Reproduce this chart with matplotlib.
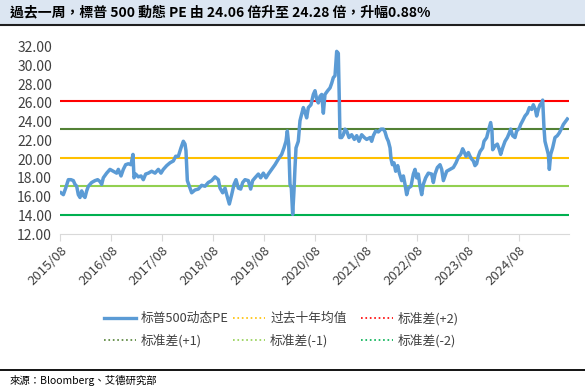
import matplotlib
matplotlib.use("Agg")
import matplotlib.pyplot as plt
from matplotlib.lines import Line2D
from matplotlib.patches import Rectangle

plt.rcParams['font.family'] = ['Noto Sans CJK SC', 'DejaVu Sans']

# ============================================================
# DATA
# ============================================================
TITLE = "過去一周，標普 500 動態 PE 由 24.06 倍升至 24.28 倍，升幅0.88%"
SOURCE = "來源：Bloomberg、艾德研究部"

# time as fractional years
years = [
    2015.595, 2015.641, 2015.687, 2015.739, 2015.791, 2015.837, 2015.870, 2015.903,
    2015.935, 2015.968, 2016.001, 2016.034, 2016.066, 2016.099, 2016.132, 2016.197,
    2016.263, 2016.315, 2016.361, 2016.394, 2016.426, 2016.492, 2016.557, 2016.623,
    2016.688, 2016.721, 2016.774, 2016.819, 2016.865, 2016.918, 2016.970, 2017.009,
    2017.029, 2017.062, 2017.114, 2017.167, 2017.212, 2017.258, 2017.311, 2017.376,
    2017.442, 2017.507, 2017.559, 2017.605, 2017.671, 2017.736, 2017.802, 2017.848,
    2017.900, 2017.952, 2017.998, 2018.031, 2018.050, 2018.077, 2018.116, 2018.162,
    2018.227, 2018.293, 2018.358, 2018.424, 2018.489, 2018.555, 2018.620, 2018.686,
    2018.719, 2018.771, 2018.817, 2018.850, 2018.902, 2018.948, 2018.994, 2019.033,
    2019.079, 2019.125, 2019.164, 2019.210, 2019.275, 2019.321, 2019.360, 2019.406,
    2019.472, 2019.517, 2019.570, 2019.622, 2019.668, 2019.734, 2019.799, 2019.865,
    2019.930, 2019.976, 2020.015, 2020.041, 2020.068, 2020.094, 2020.120, 2020.146,
    2020.172, 2020.192, 2020.212, 2020.257, 2020.290, 2020.323, 2020.356, 2020.388,
    2020.421, 2020.454, 2020.506, 2020.552, 2020.585, 2020.618, 2020.650, 2020.683,
    2020.716, 2020.749, 2020.781, 2020.834, 2020.880, 2020.913, 2020.945, 2020.978,
    2021.011, 2021.043, 2021.063, 2021.076, 2021.109, 2021.142, 2021.174, 2021.207,
    2021.253, 2021.305, 2021.358, 2021.404, 2021.449, 2021.502, 2021.554, 2021.600,
    2021.666, 2021.698, 2021.731, 2021.777, 2021.830, 2021.882, 2021.928, 2021.961,
    2021.993, 2022.026, 2022.059, 2022.079, 2022.105, 2022.137, 2022.170, 2022.210,
    2022.242, 2022.288, 2022.321, 2022.353, 2022.386, 2022.419, 2022.471, 2022.517,
    2022.550, 2022.583, 2022.615, 2022.648, 2022.681, 2022.713, 2022.759, 2022.812,
    2022.877, 2022.910, 2022.943, 2022.989, 2023.041, 2023.074, 2023.107, 2023.139,
    2023.172, 2023.238, 2023.303, 2023.355, 2023.401, 2023.447, 2023.486, 2023.512,
    2023.552, 2023.598, 2023.630, 2023.663, 2023.696, 2023.728, 2023.761, 2023.794,
    2023.827, 2023.879, 2023.905, 2023.958, 2023.990, 2024.036, 2024.062, 2024.076,
    2024.121, 2024.167, 2024.207, 2024.233, 2024.272, 2024.318, 2024.364, 2024.403,
    2024.429, 2024.468, 2024.514, 2024.547, 2024.599, 2024.626, 2024.665, 2024.711,
    2024.757, 2024.796, 2024.842, 2024.874, 2024.914, 2024.940, 2024.972, 2025.005,
    2025.038, 2025.058, 2025.084, 2025.103, 2025.136, 2025.169, 2025.189, 2025.215,
    2025.254, 2025.300, 2025.346, 2025.385, 2025.431, 2025.464, 2025.516, 2025.542,
]

pe = [
    16.4, 16.2, 16.9, 17.8, 17.8, 17.7, 17.3, 17.1,
    16.2, 15.9, 16.6, 16.1, 15.9, 16.6, 17.1, 17.5,
    17.7, 17.8, 17.6, 17.3, 18.0, 18.5, 18.9, 18.7,
    18.5, 18.9, 18.2, 18.9, 19.4, 19.5, 19.4, 20.5,
    18.0, 18.4, 18.1, 18.2, 17.8, 18.4, 18.5, 18.7,
    18.5, 18.9, 18.5, 18.9, 19.3, 19.6, 19.8, 20.3,
    20.3, 21.2, 21.9, 21.6, 20.9, 17.7, 17.1, 16.4,
    16.7, 16.8, 17.2, 17.1, 17.5, 17.7, 18.1, 17.8,
    16.9, 16.4, 16.9, 16.2, 15.2, 16.2, 17.3, 17.8,
    16.9, 16.8, 17.5, 17.8, 17.7, 16.8, 17.7, 18.0,
    18.4, 18.0, 18.5, 18.0, 18.4, 18.9, 19.4, 20.0,
    20.5, 21.2, 21.9, 23.0, 21.6, 17.3, 16.9, 14.1,
    16.6, 19.1, 21.2, 21.9, 24.1, 24.8, 25.5, 25.0,
    24.4, 25.5, 25.8, 26.9, 27.3, 26.4, 26.0, 26.7,
    26.9, 24.9, 26.9, 27.3, 27.6, 28.1, 28.7, 28.9,
    31.5, 31.3, 26.2, 22.3, 22.3, 22.6, 23.2, 23.0,
    22.3, 22.6, 22.1, 22.5, 21.9, 22.6, 22.3, 22.1,
    22.3, 21.9, 22.5, 23.0, 22.9, 23.2, 23.2, 22.9,
    22.3, 21.9, 21.2, 20.0, 19.4, 19.6, 18.7, 19.3,
    18.5, 17.7, 18.2, 17.3, 16.2, 16.9, 17.1, 18.4,
    18.9, 18.0, 18.4, 17.1, 16.2, 17.3, 18.0, 18.5,
    18.4, 17.5, 18.4, 19.1, 19.4, 18.9, 17.7, 18.2,
    18.7, 18.9, 19.1, 19.6, 20.2, 20.5, 21.1, 20.8,
    20.3, 20.7, 20.3, 20.0, 19.8, 19.3, 19.5, 20.3,
    20.8, 21.2, 21.9, 22.3, 23.0, 23.9, 23.0, 21.0,
    21.4, 21.6, 21.0, 20.5, 21.2, 21.9, 22.3, 22.8,
    23.2, 22.5, 22.3, 23.0, 23.3, 23.7, 24.1, 24.6,
    24.9, 25.5, 25.3, 25.8, 25.3, 24.6, 25.3, 25.8,
    26.0, 26.3, 23.3, 21.9, 21.2, 20.5, 18.9, 20.5,
    21.2, 22.3, 22.5, 22.8, 23.3, 23.7, 24.1, 24.28,
]

# ten-year mean and standard-deviation bands
band_labels = ["过去十年均值", "标准差(+2)", "标准差(+1)", "标准差(-1)", "标准差(-2)"]
band_values = [20.14, 26.24, 23.19, 17.09, 14.04]
band_colors = ["#FFC000", "#FF0000", "#538135", "#92D050", "#00B050"]

series_label = "标普500动态PE"
tick_years = [2015.583 + k for k in range(10)]
tick_labels = ["2015/08", "2016/08", "2017/08", "2018/08", "2019/08",
               "2020/08", "2021/08", "2022/08", "2023/08", "2024/08"]

# ============================================================
# PLOT
# ============================================================
W, H = 585, 390
fig = plt.figure(figsize=(W / 100, H / 100), dpi=100)

# title band
fig.patches.append(Rectangle((0, 1 - 24.5 / H), 1, 24.5 / H, transform=fig.transFigure,
                             facecolor="#DCE6F2", edgecolor="none", zorder=0))
fig.lines.append(Line2D([0, 1], [1 - 25 / H, 1 - 25 / H], transform=fig.transFigure,
                        color="#1F1F1F", linewidth=1.5))
fig.text(10 / W, 1 - 12.5 / H, TITLE, fontsize=10, fontweight="bold",
         family=['Noto Sans CJK TC', 'DejaVu Sans'], va="center", ha="left", color="black")

ax = fig.add_axes([60.4 / W, 1 - 234 / H, (569 - 60.4) / W, (234 - 46.7) / H])

for val, col in zip(band_values, band_colors):
    ax.axhline(val, color=col, linewidth=1.5, zorder=2)
ax.plot(years, pe, color="#5B9BD5", linewidth=2.5, zorder=3, solid_joinstyle="round")

ax.set_xlim(2015.583, 2015.583 + (569 - 60.4) / 50.9)
ax.set_ylim(12, 32)
ax.set_yticks(range(12, 33, 2))
ax.set_yticklabels([f"{v:.2f}" for v in range(12, 33, 2)])
ax.set_xticks(tick_years)
ax.set_xticklabels(tick_labels, rotation=45, ha="right", rotation_mode="anchor")

for s in ["top", "right", "left"]:
    ax.spines[s].set_visible(False)
ax.spines["bottom"].set_color("#D9D9D9")
ax.tick_params(axis="y", length=0, labelsize=10, labelcolor="#404040", pad=6)
ax.tick_params(axis="x", length=5, color="#D9D9D9", labelsize=9.5, labelcolor="#404040", pad=2)

# legend: three columns placed like the original
handles = [Line2D([], [], color="#5B9BD5", linewidth=2.4)] + \
          [Line2D([], [], color=c, linewidth=1.2, linestyle=":") for c in band_colors]
labels = [series_label] + band_labels
col_x = [104, 233, 361]
order = [[0, 3], [1, 4], [2, 5]]
for cx, idx in zip(col_x, order):
    leg = fig.legend([handles[i] for i in idx], [labels[i] for i in idx],
                     loc="upper left", bbox_to_anchor=(cx / W, 1 - 312 / H),
                     frameon=False, borderpad=0, borderaxespad=0,
                     handlelength=2.5, handletextpad=0.4, labelspacing=0.68,
                     fontsize=9.2, labelcolor="#404040")

# bottom rule and source
fig.lines.append(Line2D([0, 1], [1 - 369.5 / H, 1 - 369.5 / H], transform=fig.transFigure,
                        color="black", linewidth=1.3))
fig.text(10 / W, 1 - 380.5 / H, SOURCE, fontsize=7.5,
         family=['Noto Sans CJK TC', 'DejaVu Sans'], va="center", ha="left", color="black")

fig.savefig("out.png", dpi=100)
